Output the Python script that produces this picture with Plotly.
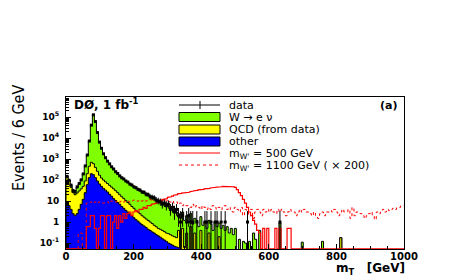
import numpy as np
import plotly.graph_objects as go

# ---------------- data (6 GeV bins from 0 to 1002 GeV) ----------------
BIN_WIDTH = 6
N_BINS = 167

# cumulative stack heights as drawn (W+QCD+other, QCD+other, other)
stack_total = [
    160, 100, 55, 33, 30, 45, 65, 105, 190, 460,
    1500, 7000, 40000, 130000, 60000, 18000, 6500, 3200, 1800, 1150,
    800, 580, 430, 330, 250, 200, 160, 130, 110, 92,
    78, 66, 57, 49, 42, 37, 32, 28, 25, 22,
    19, 17, 15, 13, 11.5, 10, 9, 8, 7.5, 7,
    6, 5, 4.2, 3.5, 3.0, 2.5, 1.5, 3.0, 1.2, 2.0,
    1.0, 2.5, 0.8, 1.5, 1.2, 0.6, 1.8, 0.7, 1.0, 0.5,
    1.2, 0.8, 0.4, 1.0, 0.6, 0.9, 0.5, 0.7, 0.4, 0.6,
    0.3, 0.5, 0.25, 0.5, 0, 0.15, 0, 0.12, 0.1, 0,
    0.12, 0, 0.3, 0.15, 0, 0.4, 0, 0, 0, 0,
    0, 0, 0, 0, 0, 0.9, 0, 0, 0, 0,
    0, 0, 0, 0, 0, 0, 0.11, 0, 0, 0,
    0, 0, 0, 0, 0, 0, 0.12, 0, 0, 0,
    0, 0, 0, 0, 0, 0.18, 0, 0, 0, 0,
    0, 0, 0, 0, 0, 0, 0, 0, 0, 0,
    0, 0, 0, 0, 0, 0, 0, 0, 0, 0,
    0, 0, 0, 0, 0, 0, 0,
]
stack_qcd_other = [
    160, 95, 45, 25, 20, 24, 30, 38, 50, 90,
    200, 450, 700, 600, 400, 260, 170, 125, 100, 82,
    68, 56, 46, 38, 31, 25, 20, 16, 13, 10.5,
    8.5, 7, 5.5, 4.5, 3.6, 3.0, 2.5, 2.0, 1.7, 1.4,
    1.2, 1.0, 0.85, 0.7, 0.6, 0.5, 0.45, 0.4, 0.35, 0.3,
    0.28, 0.25, 0.22, 0.2, 0.18, 0.4, 0.06, 0.5, 0.06, 0.3,
    0, 0.6, 0, 0.3, 0, 0, 0.4, 0, 0, 0,
    0.3, 0, 0, 0, 0, 0.2, 0, 0, 0, 0,
    0, 0, 0, 0, 0, 0, 0, 0, 0, 0,
    0, 0, 0, 0, 0, 0, 0, 0, 0, 0,
    0, 0, 0, 0, 0, 0, 0, 0, 0, 0,
    0, 0, 0, 0, 0, 0, 0, 0, 0, 0,
    0, 0, 0, 0, 0, 0, 0, 0, 0, 0,
    0, 0, 0, 0, 0, 0.18, 0, 0, 0, 0,
    0, 0, 0, 0, 0, 0, 0, 0, 0, 0,
    0, 0, 0, 0, 0, 0, 0, 0, 0, 0,
    0, 0, 0, 0, 0, 0, 0,
]
stack_other = [
    7, 6, 4, 2.5, 2, 2.5, 4, 7, 12, 25,
    60, 130, 200, 180, 130, 90, 65, 50, 40, 33,
    27, 21, 17, 13, 10.5, 8.5, 7, 5.5, 4.5, 3.6,
    3.0, 2.4, 2.0, 1.6, 1.3, 1.1, 0.9, 0.75, 0.65, 0.55,
    0.45, 0.4, 0.34, 0.3, 0.25, 0.22, 0.19, 0.16, 0.14, 0.12,
    0.1, 0.09, 0.08, 0.07, 0.065, 0.06, 0.055, 0, 0, 0,
] + [0] * (N_BINS - 60)

data_counts = [
    150, 98, 57, 31, 28, 47, 68, 102, 195, 470,
    1550, 7200, 41000, 128000, 61000, 18200, 6400, 3250, 1780, 1160,
    790, 590, 425, 335, 248, 205, 158, 128, 112, 90,
    80, 64, 58, 47, 43, 36, 33, 27, 26, 21,
    20, 16, 15, 14, 11, 10, 9, 7, 8, 6,
    7, 4, 5, 3, 4, 2, 1, 2, 0, 1,
    2, 1, 1, 0, 1, 0, 0, 0, 1, 1,
    0, 1, 0, 1, 1, 0, 1, 0, 1, 0,
    0, 0, 0, 0, 0, 0, 0, 0, 0, 1,
    0, 0, 0, 0, 0, 0, 0, 0, 0, 0,
    0, 0, 0, 0, 0, 1, 0, 0, 0, 0,
] + [0] * (N_BINS - 110)

wprime_500 = [
    0, 0, 0, 0, 0, 0, 0, 0, 0, 0,
    0.6, 0.6, 2.0, 2.0, 0.5, 0, 0.5, 2.0, 2.0, 0,
    2.0, 2.0, 0, 1.0, 2.0, 0.5, 2.0, 1.0, 2.5, 1.5,
    2.5, 3.0, 2.0, 3.0, 3.5, 3.0, 4.0, 4.0, 5.0, 4.5,
    6, 6, 7, 7.5, 8, 9, 10, 11, 12, 13,
    15, 16, 17, 19, 20, 22, 23, 24, 25, 26,
    26, 28, 30, 31, 32, 34, 35, 36, 38, 40,
    40, 42, 44, 45, 46, 48, 48, 50, 50, 52,
    52, 50, 48, 45, 35, 25, 18, 12, 8, 5,
    3, 2, 1.2, 0.8, 0.4, 0.3, 0, 0.5, 0, 0.5,
    0, 0, 0, 0.5, 0, 0.5, 0, 0, 0, 0.5,
    0.5, 0,
] + [0] * (N_BINS - 112)

wprime_1100_x200 = [
    0, 0, 0, 0, 0, 0, 0.3, 0.3, 0, 0,
    8, 8, 9, 8, 9, 8, 9, 9, 8, 9,
    9, 8, 10, 9, 9, 10, 9, 10, 9, 10,
    10, 9, 10, 11, 10, 10, 11, 10, 11, 10,
    11, 12, 10, 11, 12, 11, 10, 12, 11, 10,
    11, 9, 10, 8, 9, 7, 8, 6, 7, 6,
    6, 5, 7, 5, 6, 5, 4, 6, 5, 4,
    5, 4, 6, 5, 4, 5, 4, 5, 6, 4,
    5, 4, 3, 5, 4, 3, 5, 2, 4, 3,
    2, 4, 1.5, 3, 4, 3, 2, 4, 3, 4,
    3, 4, 3, 2.5, 4, 3, 4, 3, 2, 3,
    4, 3, 3, 2, 3, 4, 3, 4, 3, 3,
    2.5, 2, 3, 2, 1.5, 2.5, 3, 2, 3, 3,
    3.5, 3, 4, 3, 2, 3, 4, 3, 3, 4,
    1.5, 5, 2, 3, 3, 2.5, 2, 1.5, 2, 2.5,
    3, 2, 1.3, 3, 2.5, 3, 4, 3, 4, 3.5,
    4, 4.5, 4, 5, 5, 6, 6,
]

x_tick_vals = [0, 200, 400, 600, 800, 1000]
y_tick_vals = [0.1, 1, 10, 100, 1e3, 1e4, 1e5]
y_tick_text = ["10<sup>-1</sup>", "1", "10", "10<sup>2</sup>", "10<sup>3</sup>",
               "10<sup>4</sup>", "10<sup>5</sup>"]

legend_labels = ["data", "W \u2192 e \u03bd", "QCD (from data)", "other",
                 "m<sub>W'</sub> = 500 GeV", "m<sub>W'</sub> = 1100 GeV ( \u00d7 200)"]

# ---------------- styling ----------------
GREEN = "#7FFF00"
YELLOW = "#FFFF00"
BLUE = "#0000FF"
RED = "#FF0000"
Y_MIN, Y_MAX = 0.052, 9.0e5
FONT = "DejaVu Sans"

edges = np.arange(N_BINS + 1) * BIN_WIDTH
centers = edges[:-1] + BIN_WIDTH / 2


def step_xy(values, floor):
    xs, ys = [], []
    for i, v in enumerate(values):
        v = v if v > 0 else floor
        xs += [edges[i], edges[i + 1]]
        ys += [v, v]
    return xs, ys


fig = go.Figure()

for vals, col in [(stack_total, GREEN), (stack_qcd_other, YELLOW), (stack_other, BLUE)]:
    xs, ys = step_xy(vals, 1e-3)
    xs = [edges[0]] + xs + [edges[-1]]
    ys = [1e-3] + ys + [1e-3]
    fig.add_trace(go.Scatter(x=xs, y=ys, mode="lines", fill="toself", fillcolor=col,
                             line=dict(color="black", width=1), hoverinfo="skip",
                             showlegend=False))

xs, ys = step_xy(wprime_1100_x200, Y_MIN * 1.02)
fig.add_trace(go.Scatter(x=xs, y=ys, mode="lines", line=dict(color=RED, width=1, dash="dot"),
                         showlegend=False, hoverinfo="skip"))
xs, ys = step_xy(wprime_500, Y_MIN * 1.02)
fig.add_trace(go.Scatter(x=xs, y=ys, mode="lines", line=dict(color=RED, width=1.2),
                         showlegend=False, hoverinfo="skip"))

seg_x, seg_y, mx, my = [], [], [], []
for i, n in enumerate(data_counts):
    if n <= 0:
        continue
    up = n + 1 + np.sqrt(n + 0.75)
    lo = n - np.sqrt(n)
    lo = lo if lo > 0 else 1e-3
    seg_x += [edges[i], edges[i + 1], None, centers[i], centers[i], None]
    seg_y += [n, n, None, lo, up, None]
    mx.append(centers[i])
    my.append(n)
fig.add_trace(go.Scatter(x=seg_x, y=seg_y, mode="lines", line=dict(color="black", width=1),
                         showlegend=False, hoverinfo="skip"))
fig.add_trace(go.Scatter(x=mx, y=my, mode="markers", marker=dict(color="black", size=3, symbol="square"),
                         showlegend=False, hoverinfo="skip"))

# ---------------- layout (page body has an 8 px margin) ----------------
OFF = 8
W, H = 460 - OFF, 276 - OFF
L, R, T, B = 66 - OFF, 404 - OFF, 97 - OFF, 249 - OFF


def px(p):
    return (p - OFF - L) / (R - L)


def py(p):
    return (B - (p - OFF)) / (B - T)


fig.update_layout(
    width=W, height=H, autosize=False,
    margin=dict(l=L, r=W - R, t=T, b=H - B),
    paper_bgcolor="white", plot_bgcolor="white",
    showlegend=False,
    xaxis=dict(range=[0, 1000], tickvals=x_tick_vals, ticks="inside", ticklen=5,
               tickcolor="black", showline=True, linecolor="black", linewidth=1, mirror=True,
               showgrid=False, zeroline=False, ticklabelstandoff=-2,
               tickfont=dict(family=FONT, size=10, color="black", weight="bold"),
               minor=dict(dtick=50, ticks="inside", ticklen=3, tickcolor="black", showgrid=False)),
    yaxis=dict(type="log", range=[np.log10(Y_MIN), np.log10(Y_MAX)], tickvals=y_tick_vals,
               ticktext=y_tick_text, ticks="inside", ticklen=5, tickcolor="black",
               showline=True, linecolor="black", linewidth=1, mirror=True,
               showgrid=False, zeroline=False, ticklabelstandoff=4,
               tickfont=dict(family=FONT, size=9, color="black", weight="bold"),
               minor=dict(dtick="D1", ticks="inside", ticklen=3, tickcolor="black", showgrid=False)),
)

ann = []
ann.append(dict(text="Events / 6 GeV", x=px(18), y=py(138), xref="paper", yref="paper",
                textangle=-90, showarrow=False, xanchor="center", yanchor="middle",
                font=dict(family="Liberation Sans Narrow, DejaVu Sans Condensed, Liberation Sans",
                          size=16, color="black")))
ann.append(dict(text="m<sub>T</sub>\u00a0\u00a0 [GeV]", x=px(406), y=py(268.5), xref="paper",
                yref="paper", showarrow=False, xanchor="right", yanchor="middle", borderpad=0,
                font=dict(family=FONT, size=12, color="black", weight="bold")))
ann.append(dict(text="D\u00d8, 1 fb<sup>-1</sup>", x=px(72), y=py(104), xref="paper", yref="paper",
                showarrow=False, xanchor="left", yanchor="middle",
                font=dict(family=FONT, size=12, color="black", weight="bold")))
ann.append(dict(text="(a)", x=px(399), y=py(105), xref="paper", yref="paper",
                showarrow=False, xanchor="right", yanchor="middle",
                font=dict(family=FONT, size=11, color="black", weight="bold")))

rows_y = [105, 117, 129.5, 141.5, 154, 166]
for lab, yy in zip(legend_labels, rows_y):
    ann.append(dict(text=lab, x=px(228), y=py(yy), xref="paper", yref="paper", showarrow=False,
                    xanchor="left", yanchor="middle", borderpad=0,
                    font=dict(family=FONT, size=11, color="black")))

shapes = []
shapes.append(dict(type="line", xref="paper", yref="paper", x0=px(179), x1=px(220),
                   y0=py(rows_y[0]), y1=py(rows_y[0]), line=dict(color="black", width=1)))
shapes.append(dict(type="line", xref="paper", yref="paper", x0=px(200), x1=px(200),
                   y0=py(rows_y[0] - 4), y1=py(rows_y[0] + 4), line=dict(color="black", width=1)))
for col, yy in zip([GREEN, YELLOW, BLUE], rows_y[1:4]):
    shapes.append(dict(type="rect", xref="paper", yref="paper", x0=px(179), x1=px(220),
                       y0=py(yy + 4.5), y1=py(yy - 4.5), fillcolor=col,
                       line=dict(color="black", width=1)))
shapes.append(dict(type="line", xref="paper", yref="paper", x0=px(179), x1=px(220),
                   y0=py(rows_y[4] - 1), y1=py(rows_y[4] - 1), line=dict(color=RED, width=1)))
shapes.append(dict(type="line", xref="paper", yref="paper", x0=px(179), x1=px(220),
                   y0=py(rows_y[5] - 1), y1=py(rows_y[5] - 1), line=dict(color=RED, width=1, dash="dot")))

fig.update_layout(annotations=ann, shapes=shapes)
fig.write_html("out.html")
